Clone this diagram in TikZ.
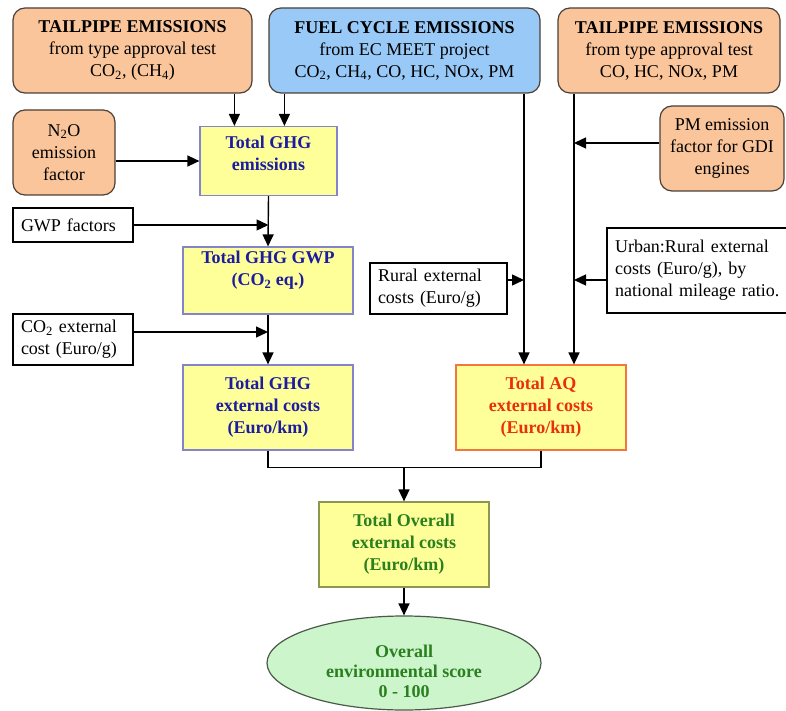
\documentclass[tikz,border=0pt]{standalone}
\usepackage{fontspec}
\setmainfont{LiberationSerif}[Extension=.ttf, UprightFont=*-Regular, BoldFont=*-Bold,
  ItalicFont=*-Italic, BoldItalicFont=*-BoldItalic]
\usetikzlibrary{arrows.meta,shapes.geometric}

\definecolor{peach}{HTML}{FAC59A}
\definecolor{skyfill}{HTML}{99C9F7}
\definecolor{paleyellow}{HTML}{FFFF99}
\definecolor{palegreen}{HTML}{CCF5CC}
\definecolor{ghgblue}{HTML}{1C1CA0}
\definecolor{aqred}{HTML}{E8300E}
\definecolor{totgreen}{HTML}{2A7F1E}
\definecolor{ghgedge}{HTML}{8484C8}
\definecolor{aqedge}{HTML}{F0783C}
\definecolor{totedge}{HTML}{8C9650}
\definecolor{darkedge}{HTML}{4A4038}
\definecolor{ovaledge}{HTML}{4A5A48}

% extra depth below the last line, lifts the text inside a fixed-height box
\newcommand\liftup[1]{\rule[-#1]{0pt}{#1}}

\begin{document}
\begin{tikzpicture}[x=1pt,y=-1pt,
  base/.style={font=\fontsize{18}{22}\selectfont, align=center, inner sep=0pt},
  srcbox/.style={base, draw=darkedge, line width=1.2pt, rounded corners=12pt},
  tailbox/.style={srcbox, fill=peach},
  fuelbox/.style={srcbox, fill=skyfill},
  inbox/.style={base, align=left, inner xsep=8pt, draw=black, line width=1.4pt, fill=white},
  ghgbox/.style={base, draw=ghgedge, line width=1.2pt, fill=paleyellow,
    text=ghgblue, font=\fontsize{18}{22}\selectfont\bfseries},
  aqbox/.style={base, draw=aqedge, line width=1.2pt, fill=paleyellow,
    text=aqred, font=\fontsize{18}{22}\selectfont\bfseries},
  totbox/.style={base, draw=totedge, line width=1.2pt, fill=paleyellow,
    text=totgreen, font=\fontsize{18}{22}\selectfont\bfseries},
  scorebox/.style={ellipse, draw=ovaledge, line width=1.2pt, fill=palegreen, inner sep=0pt},
  scoretext/.style={base, text=totgreen, font=\fontsize{18}{20}\selectfont\bfseries},
  link/.style={line width=1.4pt},
  arr/.style={link, -{Triangle[length=12pt,width=11pt]}},
]
\fill[white] (0,0) rectangle (786,711);
\useasboundingbox (0,0) rectangle (786,711);

% emission sources
\node[tailbox, minimum width=239, minimum height=85] (tpl) at (132.5,50.5)
  {\textbf{TAILPIPE EMISSIONS}\\from type approval test\\CO\textsubscript{2}, (CH\textsubscript{4})};
\node[fuelbox, minimum width=271, minimum height=85] (fuel) at (404.5,50.5)
  {\textbf{FUEL CYCLE EMISSIONS}\\from EC MEET project\\CO\textsubscript{2}, CH\textsubscript{4}, CO, HC, NOx, PM};
\node[tailbox, minimum width=222, minimum height=85] (tpr) at (669,50.5)
  {\textbf{TAILPIPE EMISSIONS}\\from type approval test\\CO, HC, NOx, PM};
\node[tailbox, minimum width=102, minimum height=85] (n2o) at (64,152.5)
  {N\textsubscript{2}O\\emission\\factor};
\node[tailbox, minimum width=124, minimum height=85] (pm) at (722,148.5)
  {PM emission\\factor for GDI\\engines};

% plain inputs
\node[inbox, text width=104, minimum height=34] (gwpf) at (73,225) {GWP factors};
\node[inbox, text width=104, minimum height=51] (co2c) at (73,339.5)
  {CO\textsubscript{2} external\\cost (Euro/g)};
\node[inbox, text width=121, minimum height=51] (rural) at (438.5,288.5)
  {Rural external\\costs (Euro/g)};
\node[inbox, text width=175, minimum height=85] (urban) at (702.5,270.5)
  {Urban:Rural external\\costs (Euro/g), by\\national mileage ratio.};

% greenhouse gas chain
\node[ghgbox, minimum width=137, minimum height=69] (ghg) at (268.5,161)
  {Total GHG\\emissions\liftup{15pt}};
\node[ghgbox, minimum width=170, minimum height=67] (gwp) at (268,280.5)
  {Total GHG GWP\\(CO\textsubscript{2} eq.)\liftup{24pt}};
\node[ghgbox, minimum width=170, minimum height=85] (ghgx) at (268,407.5)
  {Total GHG\\external costs\\(Euro/km)};

% air quality and totals
\node[aqbox, minimum width=170, minimum height=85] (aq) at (541,407.5)
  {Total AQ\\external costs\\(Euro/km)};
\node[totbox, minimum width=170, minimum height=85] (tot) at (404,544.5)
  {Total Overall\\external costs\\(Euro/km)};
\node[scorebox, minimum width=274, minimum height=94] (score) at (404,663) {};
\node[scoretext] (scoret) at ([yshift=-8pt]score.center)
  {Overall\\environmental score\\0 - 100};

% connectors
\coordinate (g1) at ([xshift=35pt]ghg.north west);
\coordinate (g2) at ([xshift=85pt]ghg.north west);
\draw[arr] (tpl.south -| g1) -- (g1);
\draw[arr] (fuel.south -| g2) -- (g2);
\draw[arr] (n2o.east |- ghg.west) -- (ghg.west);
\draw[arr] (ghg.south) -- (gwp.north);
\draw[arr] (gwpf.east) -- (gwpf.east -| ghg.south);
\draw[arr] (gwp.south) -- (ghgx.north);
\coordinate (c2) at ([yshift=7.5pt]co2c.east);
\draw[arr] (c2) -- (c2 -| gwp.south);

\coordinate (a1) at ([xshift=-17pt]aq.north);
\coordinate (a2) at ([xshift=33pt]aq.north);
\draw[arr] (fuel.south -| a1) -- (a1);
\draw[arr] (tpr.south -| a2) -- (a2);
\coordinate (p1) at ([yshift=5.5pt]pm.west);
\draw[arr] (p1) -- (p1 -| a2);
\coordinate (r1) at ([yshift=8.5pt]rural.east);
\draw[arr] (r1) -- (r1 -| a1);
\coordinate (u1) at ([yshift=-9.5pt]urban.west);
\draw[arr] (u1) -- (u1 -| a2);

\coordinate (j) at ([yshift=-17pt]ghgx.south);
\draw[link] (ghgx.south) -- (j) -| (aq.south);
\draw[arr] (tot.north |- j) -- (tot.north);
\draw[arr] (tot.south) -- (score.north);
\end{tikzpicture}
\end{document}
